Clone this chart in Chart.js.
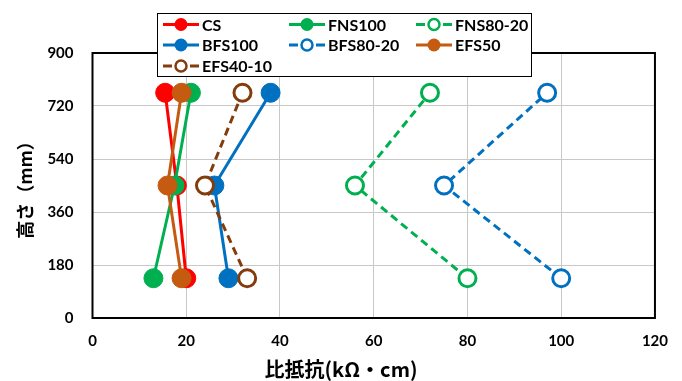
<!DOCTYPE html>
<html>
<head>
<meta charset="utf-8">
<script src="https://cdn.jsdelivr.net/npm/chart.js@4/dist/chart.umd.min.js"></script>
<style>
  html, body { margin: 0; padding: 0; background: #fff; }
  #wrap { position: relative; width: 682px; height: 381px; }
</style>
</head>
<body>
<div id="wrap"><canvas id="c" width="682" height="381"></canvas></div>
<script>
// Heights (mm) of the three measuring points: bottom, middle, top
const heights = [135, 450, 765];
// Resistivity (kΩ·cm) per series, same order as heights
const cs      = [20, 18, 15.5];
const fns100  = [13, 17.5, 21];
const fns8020 = [80, 56, 72];
const bfs100  = [29, 26, 38];
const bfs8020 = [100, 75, 97];
const efs50   = [19, 16, 19];
const efs4010 = [33, 24, 32];
const seriesNames = ['CS', 'FNS100', 'FNS80-20', 'BFS100', 'BFS80-20', 'EFS50', 'EFS40-10'];
const xTicks = [0, 20, 40, 60, 80, 100, 120];
const yTicks = [0, 180, 360, 540, 720, 900];

const LATIN = '"Lato", "Noto Sans CJK JP", sans-serif';
const CJK = '"Noto Sans CJK JP", sans-serif';

function pts(vals) { return vals.map((v, i) => ({ x: v, y: heights[i] })); }

function ds(label, vals, color, open) {
  return {
    label: label,
    data: pts(vals),
    showLine: true,
    borderColor: color,
    backgroundColor: open ? '#ffffff' : color,
    pointBackgroundColor: open ? '#ffffff' : color,
    pointBorderColor: color,
    pointRadius: open ? 8.5 : 9.5,
    pointHoverRadius: open ? 8.5 : 9.5,
    pointBorderWidth: open ? 3 : 1,
    borderWidth: 3,
    borderDash: open ? [8, 5] : [],
    fill: false,
    tension: 0
  };
}

const datasets = [
  ds(seriesNames[0], cs, '#FF0000', false),
  ds(seriesNames[1], fns100, '#00B050', false),
  ds(seriesNames[2], fns8020, '#00B050', true),
  ds(seriesNames[3], bfs100, '#0070C0', false),
  ds(seriesNames[4], bfs8020, '#0070C0', true),
  ds(seriesNames[5], efs50, '#C55A11', false),
  ds(seriesNames[6], efs4010, '#843C0C', true)
];
// Excel draws later series on top; in Chart.js lower order is drawn on top
datasets.forEach((d, i) => { d.order = datasets.length - i; });

const frame = {
  id: 'frame',
  beforeDatasetsDraw(chart) {
    const a = chart.chartArea, ctx = chart.ctx;
    ctx.save();
    ctx.strokeStyle = '#000';
    ctx.lineWidth = 2;
    ctx.strokeRect(a.left, a.top, a.right - a.left, a.bottom - a.top);
    ctx.restore();
  }
};

const boxLegend = {
  id: 'boxLegend',
  afterDraw(chart) {
    const ctx = chart.ctx;
    const bx = 157, by = 13, bw = 374, bh = 63;
    ctx.save();
    ctx.fillStyle = '#fff';
    ctx.fillRect(bx, by, bw, bh);
    ctx.strokeStyle = '#000';
    ctx.lineWidth = 1;
    ctx.strokeRect(bx + 0.5, by + 0.5, bw, bh);
    const cols = [163, 289, 416];
    const rows = [24.5, 45, 66];
    chart.data.datasets.forEach((d, i) => {
      const x0 = cols[i % 3], y = rows[Math.floor(i / 3)];
      const lw = 36;
      ctx.strokeStyle = d.borderColor;
      ctx.lineWidth = 3;
      ctx.beginPath();
      if (d.borderDash.length) {
        ctx.moveTo(x0, y); ctx.lineTo(x0 + 9, y);
        ctx.moveTo(x0 + lw - 9, y); ctx.lineTo(x0 + lw, y);
      } else {
        ctx.moveTo(x0, y); ctx.lineTo(x0 + lw, y);
      }
      ctx.stroke();
      ctx.beginPath();
      const open = d.pointBackgroundColor === '#ffffff';
      ctx.arc(x0 + lw / 2, y, open ? 5.5 : 6.5, 0, Math.PI * 2);
      ctx.fillStyle = d.pointBackgroundColor;
      ctx.fill();
      if (open) { ctx.lineWidth = 2.5; ctx.strokeStyle = d.pointBorderColor; ctx.stroke(); }
      ctx.fillStyle = '#000';
      ctx.font = 'bold 16px ' + LATIN;
      ctx.textBaseline = 'middle';
      ctx.textAlign = 'left';
      ctx.fillText(d.label, x0 + lw + 3, y + 1);
    });
    ctx.restore();
  }
};

new Chart(document.getElementById('c'), {
  type: 'scatter',
  data: { datasets: datasets },
  plugins: [frame, boxLegend],
  options: {
    responsive: false,
    animation: false,
    events: [],
    layout: { padding: { left: 27, top: 53, right: 27, bottom: 0 } },
    plugins: {
      legend: { display: false },
      tooltip: { enabled: false },
      title: {
        display: true,
        position: 'bottom',
        text: '比抵抗(kΩ・cm)',
        color: '#000',
        font: { family: CJK, size: 20, weight: 'bold', lineHeight: 1.2 },
        padding: { top: 0, bottom: 0 }
      }
    },
    scales: {
      x: {
        type: 'linear',
        min: 0, max: 120,
        afterBuildTicks(scale) { scale.ticks = xTicks.map(v => ({ value: v })); },
        afterFit(scale) { scale.height = 381 - 318 - 24; },
        grid: { color: '#c8c8c8', lineWidth: 1, drawTicks: false },
        border: { display: false },
        ticks: { color: '#000', padding: 14, font: { family: LATIN, size: 15, weight: 'bold' } }
      },
      y: {
        type: 'linear',
        min: 0, max: 900,
        afterBuildTicks(scale) { scale.ticks = yTicks.map(v => ({ value: v })); },
        afterFit(scale) { scale.width = 92.5 - 27; },
        grid: { color: '#c8c8c8', lineWidth: 1, drawTicks: false },
        border: { display: false },
        ticks: { color: '#000', padding: 19, font: { family: LATIN, size: 15, weight: 'bold' } },
        title: {
          display: true,
          text: '高さ（mm）',
          color: '#000',
          font: { family: CJK, size: 18, weight: 'bold', lineHeight: 1.2 },
          padding: { top: -13, bottom: 0 }
        }
      }
    }
  }
});
</script>
</body>
</html>
